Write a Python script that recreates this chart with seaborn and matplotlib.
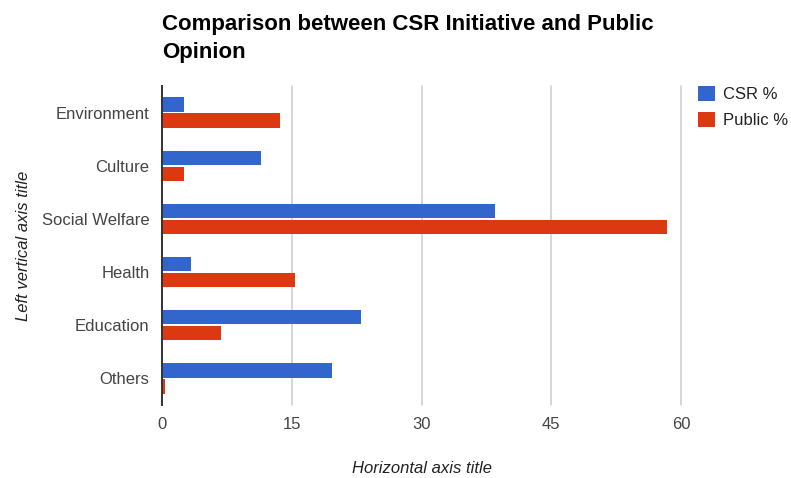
import matplotlib
matplotlib.use("Agg")
import matplotlib.pyplot as plt
import seaborn as sns
import pandas as pd
from matplotlib.patches import Patch

# Share of CSR initiatives vs. public opinion per focus area (%)
categories = ["Environment", "Culture", "Social Welfare", "Health", "Education", "Others"]
csr_pct = [2.5, 11.5, 38.5, 3.3, 23.0, 19.6]
public_pct = [13.6, 2.5, 58.4, 15.4, 6.8, 0.4]
series_names = ["CSR %", "Public %"]
series_colors = ["#3366CC", "#DC3912"]
x_ticks = [0, 15, 30, 45, 60]

df = pd.DataFrame({
    "Category": categories * 2,
    "Series": [series_names[0]] * len(categories) + [series_names[1]] * len(categories),
    "Value": csr_pct + public_pct,
})

sns.set_theme(style="white")
plt.rcParams["font.family"] = ["Liberation Sans", "DejaVu Sans"]

W, H = 791, 478
fig = plt.figure(figsize=(W / 100, H / 100), dpi=100)
ax = fig.add_axes([162 / W, 1 - 405 / H, (681 - 162) / W, (405 - 86) / H])

sns.barplot(
    data=df, y="Category", x="Value", hue="Series",
    order=categories, hue_order=series_names, palette=series_colors,
    orient="h", width=0.6, gap=0.1, saturation=1, linewidth=0,
    legend=False, ax=ax,
)

ax.set_xlim(0, 60)
ax.set_xticks(x_ticks)
ax.set_xticklabels([str(t) for t in x_ticks])
ax.xaxis.grid(True, color="#cccccc", linewidth=1.1)
for gl in ax.get_xgridlines():
    gl.set_clip_on(False)
ax.yaxis.grid(False)
ax.set_axisbelow(True)

for side in ["top", "right", "bottom"]:
    ax.spines[side].set_visible(False)
ax.spines["left"].set_color("#333333")
ax.spines["left"].set_linewidth(1.4)
ax.spines["left"].set_zorder(5)

ax.tick_params(axis="both", length=0, labelsize=12, colors="#444444")
ax.tick_params(axis="y", pad=9)
ax.tick_params(axis="x", pad=8.5)

ax.set_xlabel("Horizontal axis title", fontsize=12, fontstyle="italic",
              color="#222222", labelpad=21)
ax.set_ylabel("Left vertical axis title", fontsize=12, fontstyle="italic",
              color="#222222", labelpad=8)

fig.text(162 / W, 1 - 14 / H, "Comparison between CSR Initiative and Public\nOpinion",
         fontsize=16, fontweight="bold", color="#000000", ha="left", va="top",
         linespacing=1.45)

handles = [Patch(facecolor=c, edgecolor="none") for c in series_colors]
fig.legend(handles, series_names, loc="upper left",
           bbox_to_anchor=(698 / W, 1 - 86 / H), frameon=False,
           fontsize=12, handlelength=1.0, handleheight=1.0,
           handletextpad=0.5, labelspacing=0.6, borderpad=0,
           borderaxespad=0, labelcolor="#222222")

fig.savefig("out.png", dpi=100)
